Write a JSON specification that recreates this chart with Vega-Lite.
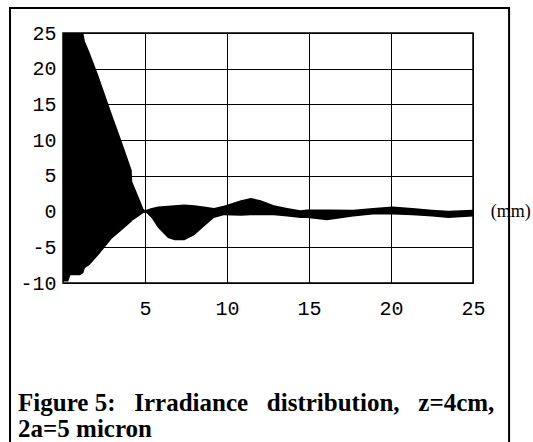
{
  "$schema": "https://vega.github.io/schema/vega-lite/v6.json",
  "autosize": {"type": "none"},
  "width": 410,
  "height": 250,
  "padding": {"left": 63, "top": 33, "right": 60, "bottom": 159},
  "background": "white",
  "config": {
    "view": {"stroke": "black", "strokeWidth": 1.5},
    "axis": {
      "grid": true, "gridColor": "black", "gridOpacity": 1, "gridWidth": 1,
      "ticks": false, "domain": false, "labelOverlap": false, "labelFlush": false,
      "labelFont": "Liberation Mono", "labelFontSize": 20, "labelColor": "black",
      "title": null
    }
  },
  "layer": [
    {
      "data": {"values": [
        {"x": 0, "hi": 25, "lo": -9.8},
        {"x": 0.32, "hi": 25, "lo": -9.8},
        {"x": 0.45, "hi": 25, "lo": -8.9},
        {"x": 1.04, "hi": 25, "lo": -8.9},
        {"x": 1.24, "hi": 25, "lo": -8.6},
        {"x": 1.34, "hi": 23.8, "lo": -7.9},
        {"x": 1.6, "hi": 22.4, "lo": -7.5},
        {"x": 2.15, "hi": 19.1, "lo": -6.1},
        {"x": 2.97, "hi": 13.7, "lo": -3.8},
        {"x": 3.58, "hi": 9.8, "lo": -2.6},
        {"x": 4.19, "hi": 5.8, "lo": -1.4},
        {"x": 4.22, "hi": 4.2, "lo": -1.3},
        {"x": 4.6, "hi": 2.1, "lo": -0.7},
        {"x": 4.9, "hi": 0.4, "lo": -0.2},
        {"x": 5.0, "hi": 0.2, "lo": 0.0},
        {"x": 5.4, "hi": 0.5, "lo": -0.9},
        {"x": 5.8, "hi": 0.7, "lo": -2.3},
        {"x": 6.4, "hi": 0.8, "lo": -3.7},
        {"x": 6.8, "hi": 0.9, "lo": -4.0},
        {"x": 7.4, "hi": 1.0, "lo": -4.0},
        {"x": 8.0, "hi": 0.9, "lo": -3.3},
        {"x": 8.6, "hi": 0.7, "lo": -2.1},
        {"x": 9.2, "hi": 0.5, "lo": -0.9},
        {"x": 9.8, "hi": 0.8, "lo": -0.5},
        {"x": 10.85, "hi": 1.6, "lo": -0.6},
        {"x": 11.45, "hi": 1.9, "lo": -0.5},
        {"x": 12.06, "hi": 1.6, "lo": -0.5},
        {"x": 12.86, "hi": 0.9, "lo": -0.5},
        {"x": 13.67, "hi": 0.5, "lo": -0.7},
        {"x": 14.48, "hi": 0.2, "lo": -0.9},
        {"x": 14.88, "hi": 0.3, "lo": -0.9},
        {"x": 16.1, "hi": 0.3, "lo": -1.2},
        {"x": 17.7, "hi": 0.25, "lo": -0.7},
        {"x": 18.9, "hi": 0.5, "lo": -0.4},
        {"x": 20.1, "hi": 0.7, "lo": -0.4},
        {"x": 21.3, "hi": 0.5, "lo": -0.5},
        {"x": 22.5, "hi": 0.25, "lo": -0.7},
        {"x": 23.5, "hi": 0.1, "lo": -0.9},
        {"x": 25, "hi": 0.25, "lo": -0.7}
      ]},
      "mark": {"type": "area", "color": "black", "clip": true},
      "encoding": {
        "x": {"field": "x", "type": "quantitative",
              "scale": {"domain": [0, 25], "nice": false, "zero": false},
              "axis": {"values": [5, 10, 15, 20, 25], "labelPadding": 15}},
        "y": {"field": "hi", "type": "quantitative",
              "scale": {"domain": [-10, 25], "nice": false, "zero": false},
              "axis": {"values": [-10, -5, 0, 5, 10, 15, 20, 25], "labelPadding": 7,
                       "labelExpr": "'' + datum.value"}},
        "y2": {"field": "lo"}
      }
    },
    {
      "data": {"values": [{}]},
      "mark": {"type": "rect", "fill": null, "fillOpacity": 0, "stroke": "black", "strokeWidth": 2},
      "encoding": {
        "x": {"datum": -3.23, "type": "quantitative",
              "axis": {"values": [5, 10, 15, 20, 25], "labelPadding": 15}},
        "x2": {"datum": 27.2},
        "y": {"datum": 28.5, "type": "quantitative",
              "axis": {"values": [-10, -5, 0, 5, 10, 15, 20, 25], "labelPadding": 7,
                       "labelExpr": "'' + datum.value"}},
        "y2": {"datum": -40}
      }
    },
    {
      "data": {"values": [{}]},
      "mark": {"type": "text", "font": "Liberation Serif", "fontSize": 18, "color": "black", "align": "center", "baseline": "middle"},
      "encoding": {
        "x": {"datum": 27.3, "type": "quantitative",
              "axis": {"values": [5, 10, 15, 20, 25], "labelPadding": 15}},
        "y": {"datum": 0, "type": "quantitative",
              "axis": {"values": [-10, -5, 0, 5, 10, 15, 20, 25], "labelPadding": 7,
                       "labelExpr": "'' + datum.value"}},
        "text": {"value": "(mm)"}
      }
    },
    {
      "data": {"values": [{}]},
      "mark": {"type": "text", "font": "Liberation Serif", "fontWeight": "bold", "fontSize": 25, "color": "black", "align": "left", "baseline": "alphabetic", "lineHeight": 26},
      "encoding": {
        "x": {"datum": -2.74, "type": "quantitative",
              "axis": {"values": [5, 10, 15, 20, 25], "labelPadding": 15}},
        "y": {"datum": -27.9, "type": "quantitative",
              "axis": {"values": [-10, -5, 0, 5, 10, 15, 20, 25], "labelPadding": 7,
                       "labelExpr": "'' + datum.value"}},
        "text": {"value": ["Figure 5:\u00a0\u00a0 Irradiance\u00a0\u00a0 distribution,\u00a0\u00a0 z=4cm,", "2a=5 micron"]}
      }
    }
  ]
}
